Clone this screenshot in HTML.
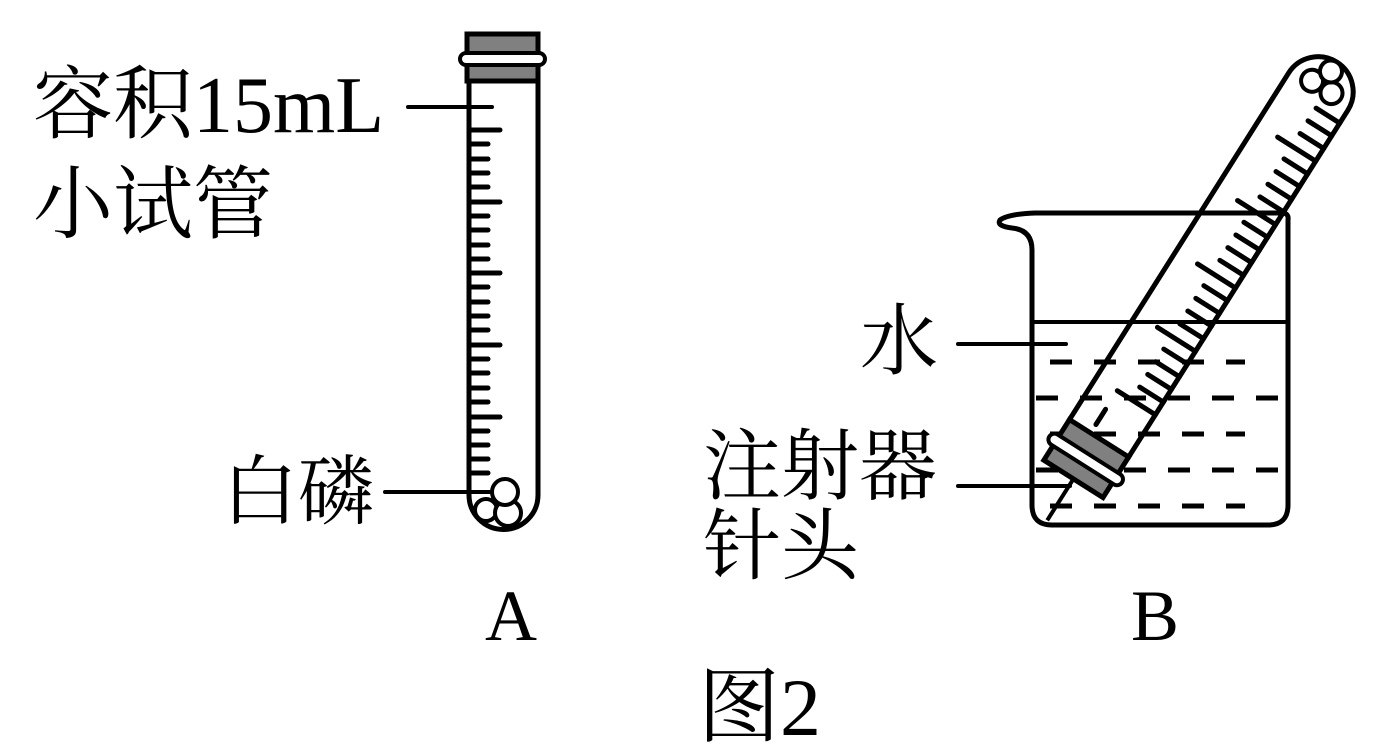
<!DOCTYPE html>
<html><head><meta charset="utf-8"><style>
html,body{margin:0;padding:0;background:#fff;}
svg{display:block;}
text{font-family:"Liberation Serif","Noto Serif CJK SC",serif;fill:#000;}
</style></head><body>
<svg width="1379" height="748" viewBox="0 0 1379 748" xmlns="http://www.w3.org/2000/svg">
<g font-size="80">
<text x="33" y="132">容积15mL</text>
<text x="33" y="232">小试管</text>
</g>
<text x="222" y="518" font-size="76">白磷</text>
<text x="860" y="368" font-size="78">水</text>
<text x="703" y="493" font-size="78">注射器</text>
<text x="703" y="573" font-size="78">针头</text>
<text x="485" y="640" font-size="72">A</text>
<text x="1131" y="640" font-size="72">B</text>
<text x="698" y="735" font-size="82">图2</text>

<!-- Tube A -->
<g stroke="#000" stroke-width="5" fill="none" stroke-linecap="round">
<path d="M469 78 L469 495 A34.5 34.5 0 0 0 538 495 L538 78"/>
<line x1="408" y1="107" x2="492" y2="107" stroke-width="4"/>
<line x1="385" y1="492" x2="505" y2="492" stroke-width="4"/>
</g>
<g stroke="#000" stroke-width="5" stroke-linecap="round">
<line x1="469" y1="130" x2="500" y2="130"/>
<line x1="469" y1="144" x2="488" y2="144"/>
<line x1="469" y1="159" x2="488" y2="159"/>
<line x1="469" y1="173" x2="488" y2="173"/>
<line x1="469" y1="187" x2="488" y2="187"/>
<line x1="469" y1="202" x2="500" y2="202"/>
<line x1="469" y1="216" x2="488" y2="216"/>
<line x1="469" y1="230" x2="488" y2="230"/>
<line x1="469" y1="245" x2="488" y2="245"/>
<line x1="469" y1="259" x2="488" y2="259"/>
<line x1="469" y1="273" x2="500" y2="273"/>
<line x1="469" y1="287" x2="488" y2="287"/>
<line x1="469" y1="302" x2="488" y2="302"/>
<line x1="469" y1="316" x2="488" y2="316"/>
<line x1="469" y1="330" x2="488" y2="330"/>
<line x1="469" y1="345" x2="500" y2="345"/>
<line x1="469" y1="359" x2="488" y2="359"/>
<line x1="469" y1="373" x2="488" y2="373"/>
<line x1="469" y1="388" x2="488" y2="388"/>
<line x1="469" y1="402" x2="488" y2="402"/>
<line x1="469" y1="417" x2="500" y2="417"/>
<line x1="469" y1="431" x2="488" y2="431"/>
<line x1="469" y1="445" x2="488" y2="445"/>
<line x1="469" y1="459" x2="488" y2="459"/>
<line x1="469" y1="473" x2="488" y2="473"/>
</g>
<g stroke="#000" stroke-width="4" fill="#fff">
<circle cx="486" cy="510" r="11"/>
<circle cx="508" cy="513" r="13"/>
<circle cx="505" cy="492" r="13"/>
</g>
<rect x="467" y="34" width="71" height="47" fill="#808080" stroke="#000" stroke-width="5"/>
<rect x="460" y="53" width="85" height="12" rx="6" fill="#fff" stroke="#000" stroke-width="4"/>

<!-- Beaker -->
<g stroke="#000" stroke-width="5" fill="none" stroke-linecap="round" stroke-linejoin="round">
<path d="M1288 220 Q1289 213 1282 213 L1035 213 Q1008 214 1000 220 Q996 226 1012 228 Q1032 230 1032 250 L1032 505 Q1032 525 1052 525 L1268 525 Q1288 525 1288 505 Z"/>
<line x1="1032" y1="322" x2="1288" y2="322" stroke-width="4"/>
<line x1="958" y1="344" x2="1066" y2="344" stroke-width="4"/>
<line x1="958" y1="486" x2="1070" y2="486" stroke-width="4"/>
</g>
<g stroke="#000" stroke-width="5" stroke-dasharray="22 22" stroke-linecap="butt">
<line x1="1050" y1="362" x2="1245" y2="362"/>
<line x1="1036" y1="398" x2="1280" y2="398"/>
<line x1="1050" y1="434" x2="1245" y2="434"/>
<line x1="1036" y1="470" x2="1280" y2="470"/>
<line x1="1050" y1="506" x2="1245" y2="506"/>
</g>

<!-- Syringe B -->
<g transform="translate(1098 440) rotate(32.3)">
<line x1="0" y1="40" x2="0" y2="95" stroke="#000" stroke-width="4"/>
<path d="M-35 0 L-35 -412 A35 35 0 0 1 35 -412 L35 0" fill="none" stroke="#000" stroke-width="5"/>
<g stroke="#000" stroke-width="5" stroke-linecap="round">
<line x1="35" y1="-52" x2="-10" y2="-52"/>
<line x1="35" y1="-67" x2="7" y2="-67"/>
<line x1="35" y1="-82" x2="7" y2="-82"/>
<line x1="35" y1="-97" x2="7" y2="-97"/>
<line x1="35" y1="-112" x2="7" y2="-112"/>
<line x1="35" y1="-127" x2="-10" y2="-127"/>
<line x1="35" y1="-142" x2="7" y2="-142"/>
<line x1="35" y1="-157" x2="7" y2="-157"/>
<line x1="35" y1="-172" x2="7" y2="-172"/>
<line x1="35" y1="-187" x2="7" y2="-187"/>
<line x1="35" y1="-202" x2="-10" y2="-202"/>
<line x1="35" y1="-217" x2="7" y2="-217"/>
<line x1="35" y1="-232" x2="7" y2="-232"/>
<line x1="35" y1="-247" x2="7" y2="-247"/>
<line x1="35" y1="-262" x2="7" y2="-262"/>
<line x1="35" y1="-277" x2="-10" y2="-277"/>
<line x1="35" y1="-292" x2="7" y2="-292"/>
<line x1="35" y1="-307" x2="7" y2="-307"/>
<line x1="35" y1="-322" x2="7" y2="-322"/>
<line x1="35" y1="-337" x2="7" y2="-337"/>
<line x1="35" y1="-352" x2="-10" y2="-352"/>
<line x1="35" y1="-367" x2="7" y2="-367"/>
<line x1="35" y1="-382" x2="7" y2="-382"/>
<line x1="35" y1="-397" x2="7" y2="-397"/>
<line x1="-10" y1="-12" x2="-10" y2="-30"/>
</g>
<g stroke="#000" stroke-width="4" fill="#fff">
<circle cx="-11" cy="-418" r="11"/>
<circle cx="12" cy="-418" r="11"/>
<circle cx="0" cy="-436" r="11"/>
</g>
<rect x="-35" y="-2" width="70" height="48" fill="#808080" stroke="#000" stroke-width="5"/>
<rect x="-43" y="17" width="86" height="12" rx="6" fill="#fff" stroke="#000" stroke-width="4"/>
</g>
</svg>
</body></html>
